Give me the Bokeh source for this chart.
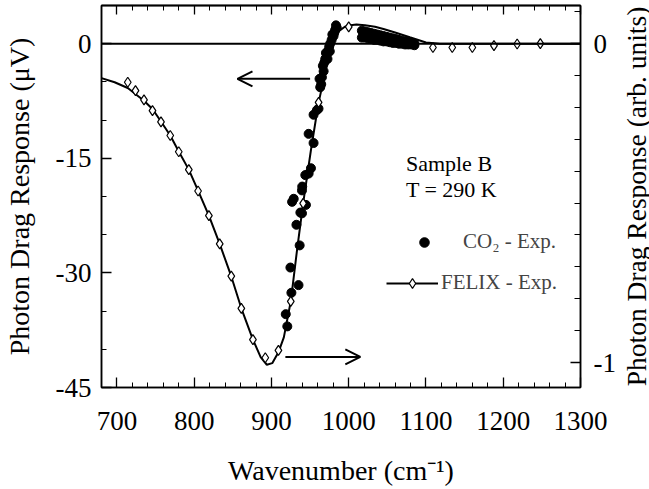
from bokeh.plotting import figure
from bokeh.layouts import row
from bokeh.models import (LinearAxis, Range1d, FixedTicker, Span, Arrow, OpenHead,
                          Label, Legend, LegendItem)
from bokeh.embed import file_html
from bokeh.resources import INLINE

FONT = "Liberation Serif"

# ---- data ----
# CO2 laser points, left axis (microvolt)
co2_x = [918.5, 920.5, 924.5, 925.8, 926.7, 928.8, 932.3, 935.0, 936.5, 937.4,
         939.5, 939.5, 939.8, 943.8, 944.6, 948.1, 948.1, 951.1, 954.5, 954.5,
         958.8, 960.9, 962.2, 963.1, 964.4, 965.3, 966.5, 967.5, 968.3, 969.6,
         970.5, 971.5, 972.5, 973.8, 974.7, 975.5, 976.0, 977.9, 978.8, 980.3,
         981.2, 982.4, 983.5, 984.5,
         1017, 1017, 1019, 1021, 1021, 1023, 1025, 1025, 1027, 1029, 1029, 1031,
         1033, 1033, 1035, 1037, 1037, 1039, 1041, 1041, 1043, 1045, 1045, 1047,
         1049, 1049, 1051, 1053, 1053, 1055, 1057, 1057, 1059, 1061, 1061, 1063,
         1065, 1065, 1067, 1069, 1069, 1071, 1073, 1073, 1075, 1077, 1077, 1079,
         1081, 1081, 1083, 1085, 1085]
co2_y = [-35.4, -37.0, -29.3, -32.6, -20.7, -20.3, -23.7, -31.6, -26.4, -22.1,
         -19.2, -22.2, -18.7, -17.2, -21.1, -17.0, -11.8, -16.3, -13.0, -9.3,
         -8.7, -8.5, -4.6, -5.7, -5.3, -4.4, -2.9, -3.6, -2.5, -2.0,
         -1.2, -1.4, -2.0, -0.9, -0.4, -1.0, 0.0, 0.5, 1.2, 1.0,
         1.4, 1.8, 2.4, 2.1,
         1.7, 0.8, 1.2, 1.6, 0.8, 1.1, 1.5, 0.7, 1.0, 1.4, 0.6, 0.9,
         1.3, 0.5, 0.8, 1.2, 0.5, 0.7, 1.1, 0.4, 0.7, 1.0, 0.3, 0.6,
         0.9, 0.3, 0.5, 0.8, 0.2, 0.5, 0.7, 0.1, 0.4, 0.6, 0.1, 0.3,
         0.5, 0.0, 0.3, 0.4, 0.0, 0.2, 0.3, -0.1, 0.2, 0.2, -0.1, 0.1,
         0.1, -0.1, 0.0, 0.0, -0.2]

# FELIX points, right axis (arb. units)
felix_x = [714, 724, 735, 746, 757, 769, 780, 793, 805, 819, 833, 848, 861,
           876, 892, 909, 925, 941, 961, 1000, 1109, 1134, 1160, 1188, 1218, 1248]
felix_y = [-0.121, -0.147, -0.176, -0.210, -0.245, -0.288, -0.339, -0.395,
           -0.462, -0.539, -0.628, -0.729, -0.830, -0.928, -0.985, -0.962,
           -0.808, -0.501, -0.184, 0.053, -0.012, -0.012, -0.012, -0.006,
           -0.001, 0.0]

# smooth FELIX curve, right axis (arb. units)
fit_x = [680, 697, 714, 735, 746, 757, 769, 780, 793, 805, 819, 833, 848, 861,
         876, 886, 894, 901, 909, 916, 925, 933, 941, 951, 961, 965, 971, 976,
         982, 988, 995, 1002, 1010, 1021, 1034, 1045, 1060, 1079, 1100, 1118, 1300]
fit_y = [-0.108, -0.121, -0.139, -0.179, -0.205, -0.244, -0.288, -0.338, -0.395,
         -0.461, -0.539, -0.628, -0.730, -0.830, -0.928, -0.983, -1.007, -1.002,
         -0.968, -0.921, -0.808, -0.649, -0.501, -0.335, -0.184, -0.141, -0.072,
         -0.028, 0.016, 0.041, 0.053, 0.058, 0.060, 0.058, 0.053, 0.046, 0.035,
         0.020, 0.004, 0.0, 0.0]

x_ticks = [700, 800, 900, 1000, 1100, 1200, 1300]
x_minor = [680, 720, 740, 760, 780, 820, 840, 860, 880, 920, 940, 960, 980,
           1020, 1040, 1060, 1080, 1120, 1140, 1160, 1180, 1220, 1240, 1260, 1280]
left_ticks = [-45, -30, -15, 0]
left_minor = [-40, -35, -25, -20, -10, -5]
right_ticks = [-1, 0]
right_minor = [0.1, -0.1, -0.2, -0.3, -0.4, -0.5, -0.6, -0.7, -0.8, -0.9]

x_range = (680, 1300)
left_range = (-45, 5)
right_scale = 41.73  # microvolt per arb. unit
right_range = (left_range[0] / right_scale, left_range[1] / right_scale)

arrow_left = dict(x0=950, x1=856, y=-4.6)
arrow_right = dict(x0=918, x1=1015, y=-41.0)

# ---- main figure ----
p = figure(width=619, height=489, x_range=Range1d(*x_range),
           y_range=Range1d(*left_range), output_backend="svg",
           toolbar_location=None, min_border_left=100, min_border_right=39,
           min_border_top=5, min_border_bottom=102)
p.extra_y_ranges = {"right": Range1d(*right_range)}
p.xgrid.visible = False
p.ygrid.visible = False
p.outline_line_color = "black"
p.outline_line_width = 1.5
p.background_fill_color = "white"
p.border_fill_color = "white"

xa = p.xaxis[0]
ya = p.yaxis[0]
# top edge: two label-free axes (long ticks at the major positions, short elsewhere)
top_major = LinearAxis(ticker=FixedTicker(ticks=[], minor_ticks=x_ticks))
top_minor = LinearAxis(ticker=FixedTicker(ticks=[], minor_ticks=x_minor))
right = LinearAxis(y_range_name="right",
                   ticker=FixedTicker(ticks=right_ticks, minor_ticks=right_minor))
xa.ticker = FixedTicker(ticks=x_ticks, minor_ticks=x_minor)
ya.ticker = FixedTicker(ticks=left_ticks, minor_ticks=left_minor)
ya.major_label_overrides = {t: str(t) for t in left_ticks}
right.major_label_overrides = {t: str(t) for t in right_ticks}

for ax in (xa, ya, top_major, top_minor, right):
    ax.axis_line_color = "black"
    ax.axis_line_width = 1.5
    ax.major_tick_line_color = "black"
    ax.minor_tick_line_color = "black"
    ax.major_tick_line_width = 1.3
    ax.minor_tick_line_width = 1.0
    ax.major_tick_out = 0
    ax.minor_tick_out = 0
    ax.major_tick_in = 10
    ax.minor_tick_in = 5
    ax.major_label_text_font = FONT
    ax.major_label_text_font_size = "27px"
    ax.major_label_text_color = "black"
    ax.axis_label_text_font = FONT
    ax.axis_label_text_font_size = "28px"
    ax.axis_label_text_font_style = "normal"
    ax.axis_label_text_color = "black"

right.minor_tick_in = 6
top_major.minor_tick_in = 9
top_major.minor_tick_line_width = 1.3
for ax in (top_major, top_minor):
    ax.major_label_standoff = 0
    ax.axis_label_standoff = 0

xa.axis_label = "Wavenumber (cm\u207b\u00b9)"
xa.major_label_standoff = 24
xa.axis_label_standoff = 22
ya.axis_label = "Photon Drag Response (\u03bcV)"
ya.major_label_standoff = 10
ya.axis_label_standoff = 18
right.major_label_standoff = 13

p.add_layout(top_major, "above")
p.add_layout(top_minor, "above")
p.add_layout(right, "right")

# zero line
p.add_layout(Span(location=0, dimension="width", line_color="black", line_width=2))

# data
co2_r = p.scatter(co2_x, co2_y, marker="circle", size=9, fill_color="black",
                  line_color="black")
fit_r = p.line(fit_x, fit_y, y_range_name="right", line_color="black", line_width=2)
felix_r = p.scatter(felix_x, felix_y, y_range_name="right", marker="diamond", size=10,
                    fill_color="white", line_color="black", line_width=1.2)

# arrows
p.add_layout(Arrow(end=OpenHead(size=15, line_width=2, line_color="black"),
                   x_start=arrow_left["x0"], x_end=arrow_left["x1"],
                   y_start=arrow_left["y"], y_end=arrow_left["y"],
                   line_width=2, line_color="black"))
p.add_layout(Arrow(end=OpenHead(size=15, line_width=2, line_color="black"),
                   x_start=arrow_right["x0"], x_end=arrow_right["x1"],
                   y_start=arrow_right["y"], y_end=arrow_right["y"],
                   line_width=2, line_color="black"))

# annotations
for txt, yv in (("Sample B", -15.65), ("T = 290 K", -19.04)):
    p.add_layout(Label(x=1074, y=yv, text=txt, text_font=FONT, text_font_size="22px",
                       text_baseline="alphabetic", text_align="left", text_color="black"))

# legends
common = dict(background_fill_alpha=0, border_line_color=None, padding=0, margin=0,
              glyph_width=52, glyph_height=24, label_height=24, spacing=0,
              label_text_font=FONT, label_text_font_size="21px")
leg1 = Legend(items=[LegendItem(label="CO\u2082 - Exp.", renderers=[co2_r])],
              location=(297, 133), label_standoff=13, **common)
leg2 = Legend(items=[LegendItem(label="FELIX - Exp.", renderers=[fit_r, felix_r])],
              location=(285, 92), label_standoff=3, **common)
p.add_layout(leg1)
p.add_layout(leg2)

# ---- narrow strip on the right carrying the right-axis title ----
t = figure(width=30, height=489, x_range=Range1d(0, 1), y_range=Range1d(0, 1),
           output_backend="svg", toolbar_location=None,
           x_axis_location=None, y_axis_location=None,
           min_border_left=0, min_border_right=0, min_border_top=0, min_border_bottom=0)
t.grid.visible = False
t.outline_line_color = None
t.background_fill_color = "white"
t.border_fill_color = "white"
t.add_layout(Label(x=17, y=191, x_units="screen", y_units="screen",
                   text="Photon Drag Response (arb. units)", angle=90, angle_units="deg",
                   text_align="center", text_baseline="alphabetic", text_font=FONT,
                   text_font_size="27.5px", text_color="black"))

layout = row(p, t, spacing=0)
open("out.html", "w").write(file_html(layout, INLINE))
